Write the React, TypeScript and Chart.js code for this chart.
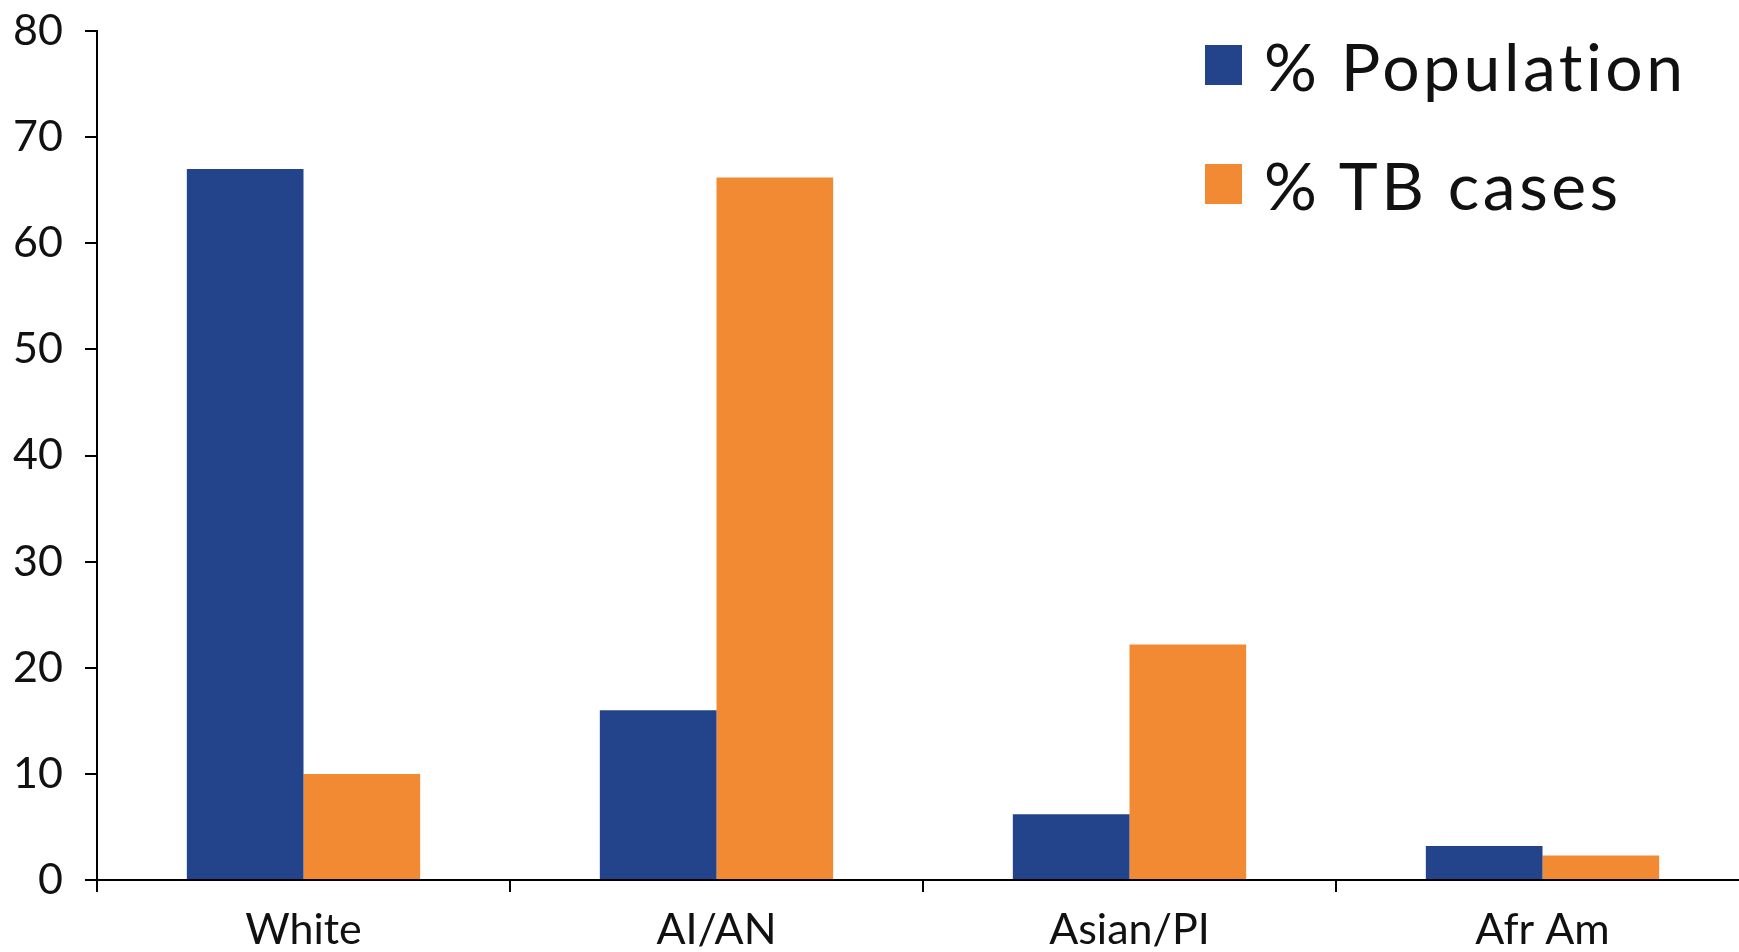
import React, { useEffect, useRef } from "react";
import { Chart, registerables } from "chart.js";

Chart.register(...registerables);

const categories = ["White", "AI/AN", "Asian/PI", "Afr Am"];
const seriesNames = ["% Population", "% TB cases"];
const populationPct = [67, 16, 6.2, 3.2];
const tbCasesPct = [10, 66.2, 22.2, 2.3];
const yTicks = [0, 10, 20, 30, 40, 50, 60, 70, 80];
const seriesColors = ["#23448A", "#F28A34"];

const FONT = "Lato, 'Open Sans', sans-serif";

export default function App() {
  const canvasRef = useRef<HTMLCanvasElement | null>(null);

  useEffect(() => {
    document.body.style.margin = "0";
    const canvas = canvasRef.current;
    if (!canvas) return;
    const chart = new Chart(canvas, {
      type: "bar",
      data: {
        labels: categories,
        datasets: [
          {
            label: seriesNames[0],
            data: populationPct,
            backgroundColor: seriesColors[0],
            borderWidth: 0,
            categoryPercentage: 0.565,
            barPercentage: 1,
          },
          {
            label: seriesNames[1],
            data: tbCasesPct,
            backgroundColor: seriesColors[1],
            borderWidth: 0,
            categoryPercentage: 0.565,
            barPercentage: 1,
          },
        ],
      },
      options: {
        animation: false,
        responsive: false,
        maintainAspectRatio: false,
        layout: { padding: { top: 31, left: 0, right: 0, bottom: 0 } },
        plugins: {
          legend: { display: false },
          tooltip: { enabled: false },
        },
        scales: {
          x: {
            offset: true,
            grid: {
              display: true,
              offset: true,
              drawOnChartArea: false,
              drawTicks: true,
              tickLength: 12,
              color: "#000",
              lineWidth: 2,
            },
            border: { display: true, color: "#000", width: 2 },
            ticks: {
              color: "#111",
              font: { family: FONT, size: 43 },
              padding: 12,
              maxRotation: 0,
              autoSkip: false,
            },
            afterFit: (scale: any) => {
              scale.height = 72;
              scale.paddingLeft = 0;
              scale.paddingRight = 0;
            },
          },
          y: {
            min: 0,
            max: 80,
            afterBuildTicks: (scale: any) => {
              scale.ticks = yTicks.map((v) => ({ value: v }));
            },
            grid: {
              display: true,
              drawOnChartArea: false,
              drawTicks: true,
              tickLength: 12,
              color: "#000",
              lineWidth: 2,
            },
            border: { display: true, color: "#000", width: 2 },
            ticks: {
              color: "#111",
              font: { family: FONT, size: 43 },
              padding: 22,
            },
            afterFit: (scale: any) => {
              scale.width = 97;
              scale.paddingTop = 0;
              scale.paddingBottom = 0;
            },
          },
        },
      },
    });
    return () => chart.destroy();
  }, []);

  return (
    <div
      style={{
        position: "relative",
        width: 1739,
        height: 952,
        overflow: "hidden",
        background: "#fff",
      }}
    >
      <canvas
        ref={canvasRef}
        width={1749}
        height={952}
        style={{ position: "absolute", left: 0, top: 0, width: 1749, height: 952 }}
      />
      {seriesNames.map((name, i) => (
        <div
          key={name}
          style={{
            position: "absolute",
            left: 1205,
            top: 28 + i * 119,
            display: "flex",
            alignItems: "center",
            fontFamily: FONT,
            fontSize: 66,
            letterSpacing: 3.5,
            color: "#111",
            height: 74,
            whiteSpace: "nowrap",
          }}
        >
          <div
            style={{
              width: 37,
              height: 40,
              background: seriesColors[i],
              marginRight: 22,
            }}
          />
          <span>{name}</span>
        </div>
      ))}
    </div>
  );
}
